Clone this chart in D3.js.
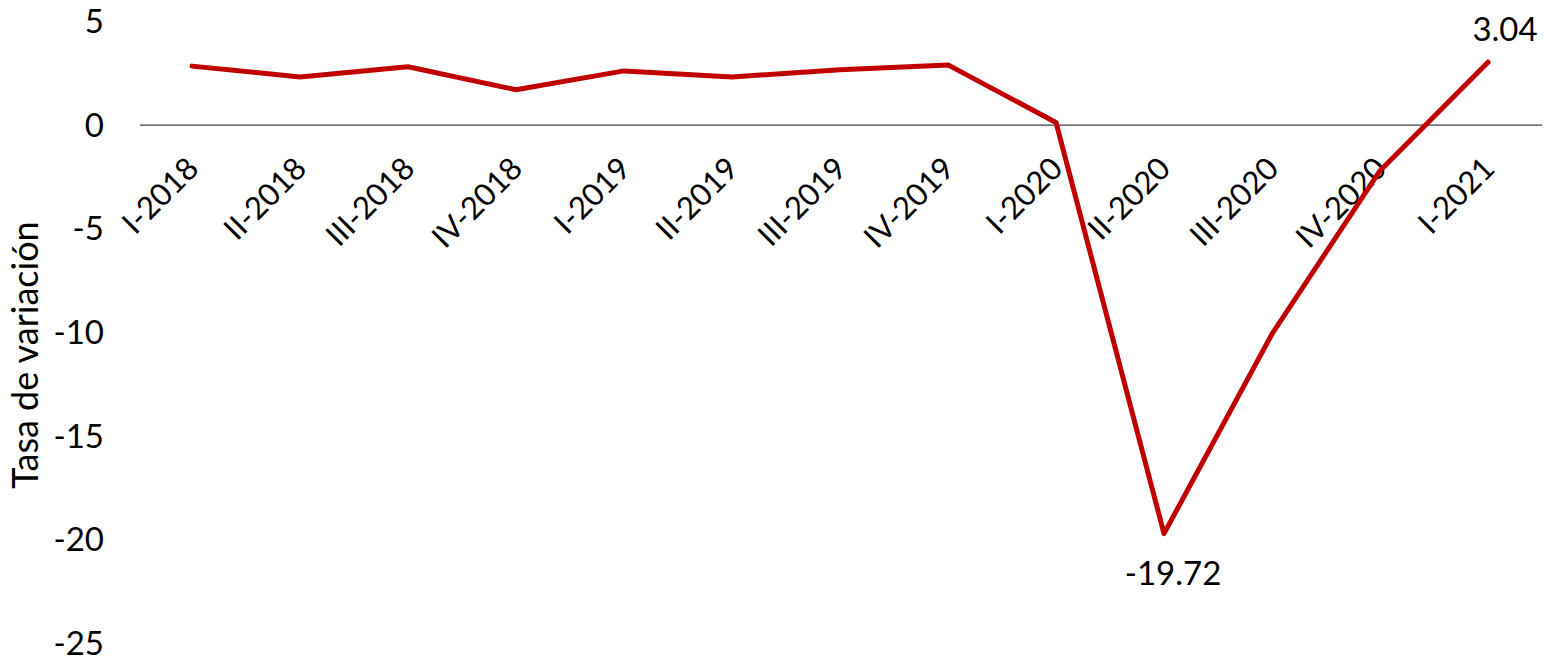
<!DOCTYPE html>
<html>
<head>
<meta charset="utf-8">
<script src="https://cdn.jsdelivr.net/npm/d3@7"></script>
<style>
  html, body { margin: 0; padding: 0; background: #fff; }
  svg text { font-family: Lato, "Open Sans", sans-serif; fill: #000; }
</style>
</head>
<body>
<svg id="chart" width="1547" height="659"></svg>
<script>
// Quarterly change rate, 2018–2021
const quarters = ["I-2018", "II-2018", "III-2018", "IV-2018",
                  "I-2019", "II-2019", "III-2019", "IV-2019",
                  "I-2020", "II-2020", "III-2020", "IV-2020", "I-2021"];
const values = [2.85, 2.33, 2.82, 1.71, 2.62, 2.33, 2.67, 2.91, 0.13, -19.72, -10.08, -2.2, 3.04];
const yTicks = [5, 0, -5, -10, -15, -20, -25];
const labelled = ["II-2020", "I-2021"];
const yTitle = "Tasa de variación";

(function () {
  const svg = d3.select("#chart");
  const plotLeft = 138, plotRight = 1542, plotTop = 21.6, plotBottom = 643;
  const fs = 33;

  const x = d3.scaleBand().domain(quarters).range([plotLeft, plotRight]);
  const xc = q => x(q) + x.bandwidth() / 2;
  const y = d3.scaleLinear().domain([-25, 5]).range([plotBottom, plotTop]);

  // y axis labels (no axis line), plain hyphen for negatives
  const yAxis = d3.axisLeft(y).tickValues(yTicks).tickSize(0).tickPadding(0)
    .tickFormat(d => String(d));
  const gy = svg.append("g").attr("transform", "translate(104,0)").call(yAxis);
  gy.select(".domain").remove();
  gy.selectAll("text").attr("font-size", fs).attr("font-family", "Lato, sans-serif")
    .attr("dy", "0.34em").attr("fill", "#000");

  // zero line
  svg.append("line")
    .attr("x1", plotLeft + 2).attr("x2", plotRight)
    .attr("y1", y(0)).attr("y2", y(0))
    .attr("stroke", "#404040").attr("stroke-width", 1.3);

  // category labels, rotated
  const xAxis = d3.axisBottom(x).tickSize(0).tickPadding(0);
  const gx = svg.append("g").attr("transform", `translate(0,${y(0)})`).call(xAxis);
  gx.select(".domain").remove();
  gx.selectAll("text")
    .attr("font-size", 31).attr("font-family", "Lato, sans-serif").attr("fill", "#000")
    .attr("text-anchor", "end")
    .attr("transform", "translate(-7,30) rotate(-45)")
    .attr("dy", "0.7em").attr("y", 0).attr("x", 0);

  // series line
  const line = d3.line().x((d, i) => xc(quarters[i])).y(d => y(d));
  svg.append("path")
    .datum(values)
    .attr("fill", "none")
    .attr("stroke", "#C00000")
    .attr("stroke-width", 5)
    .attr("stroke-linejoin", "round")
    .attr("stroke-linecap", "round")
    .attr("d", line);

  // value labels
  labelled.forEach(q => {
    const i = quarters.indexOf(q);
    const v = values[i];
    const t = svg.append("text")
      .attr("font-size", fs)
      .attr("text-anchor", "middle")
      .text(v.toFixed(2));
    if (v < 0) {
      t.attr("x", xc(q) + 9).attr("y", y(v) + 51);
    } else {
      t.attr("x", xc(q) + 17).attr("y", y(v) - 21);
    }
  });

  // y axis title
  svg.append("text")
    .attr("transform", "translate(38,355) rotate(-90)")
    .attr("text-anchor", "middle")
    .attr("font-size", 36)
    .text(yTitle);
})();
</script>
</body>
</html>
